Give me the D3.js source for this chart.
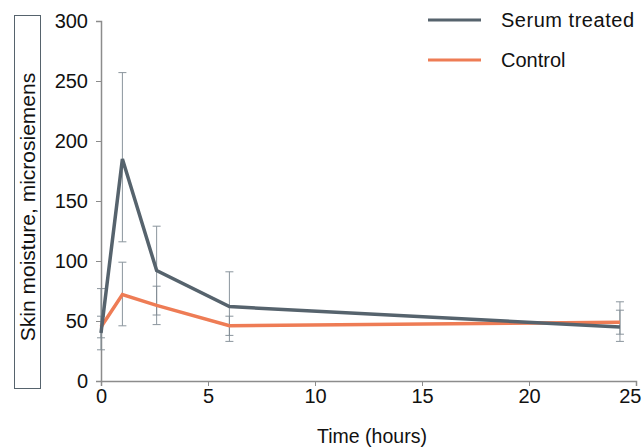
<!DOCTYPE html>
<html>
<head>
<meta charset="utf-8">
<style>
  html, body { margin: 0; padding: 0; background: #fff; }
  svg text { font-family: "Liberation Sans", Arial, sans-serif; fill: #111; }
</style>
</head>
<body>
<svg id="chart" width="643" height="447"></svg>
<script src="https://cdn.jsdelivr.net/npm/d3@7"></script>
<script>
// values
const hours = [0, 1, 2.6, 6, 24.25];
const serum = [40, 185, 92, 62, 45];
const serumLo = [26, 116, 55, 33, 33];
const serumHi = [77, 257, 129, 91, 66];
const control = [45, 72, 63, 46, 49];
const controlLo = [36, 46, 47, 38, 39];
const controlHi = [54, 99, 79, 54, 59];
const xTicks = [0, 5, 10, 15, 20, 25];
const yTicks = [0, 50, 100, 150, 200, 250, 300];

const svg = d3.select('#chart');
const x = d3.scaleLinear().domain([0, 25]).range([101, 636]);
const y = d3.scaleLinear().domain([0, 300]).range([381, 21]);

const axisColor = '#8c8c8c';

// axes
const gx = svg.append('g').attr('transform', 'translate(0,381)')
  .call(d3.axisBottom(x).tickValues(xTicks).tickSize(5).tickPadding(3).tickFormat(d3.format('d')));
const gy = svg.append('g').attr('transform', 'translate(101,0)')
  .call(d3.axisLeft(y).tickValues(yTicks).tickSize(5).tickPadding(8).tickFormat(d3.format('d')));
[gx, gy].forEach(g => {
  g.select('.domain').attr('stroke', axisColor).attr('stroke-width', 1.5);
  g.selectAll('.tick line').attr('stroke', axisColor).attr('stroke-width', 1);
  g.selectAll('.tick text').style('font-size', '20px').style('font-family', '"Liberation Sans", Arial, sans-serif').attr('fill', '#111');
});
// keep the last x label inside the page
gx.selectAll('.tick text').filter(d => d === 25).attr('text-anchor', 'end').attr('x', 5);

// error bars
const errColor = '#7f8a93';
function errorBars(lo, hi) {
  const g = svg.append('g').attr('stroke', errColor).attr('stroke-width', 1).attr('opacity', 0.9);
  hours.forEach((h, i) => {
    const cx = x(h);
    g.append('line').attr('x1', cx).attr('x2', cx).attr('y1', y(lo[i])).attr('y2', y(hi[i]));
    [lo[i], hi[i]].forEach(v => {
      g.append('line').attr('x1', cx - 4).attr('x2', cx + 4).attr('y1', y(v)).attr('y2', y(v));
    });
  });
}
errorBars(controlLo, controlHi);
errorBars(serumLo, serumHi);

// lines
const line = d3.line().x((d, i) => x(hours[i])).y(d => y(d));
const series = [
  { name: 'Serum treated', values: serum, color: '#56636d' },
  { name: 'Control', values: control, color: '#ee7c55' }
];
svg.append('path').datum(control).attr('d', line)
  .attr('fill', 'none').attr('stroke', series[1].color).attr('stroke-width', 3.5);
svg.append('path').datum(serum).attr('d', line)
  .attr('fill', 'none').attr('stroke', series[0].color).attr('stroke-width', 3.5);

// legend
series.forEach((s, i) => {
  const ly = 20 + i * 40;
  svg.append('line').attr('x1', 428).attr('x2', 481).attr('y1', ly).attr('y2', ly)
    .attr('stroke', s.color).attr('stroke-width', 3);
  svg.append('text').attr('x', 501).attr('y', ly).attr('dy', '0.35em')
    .style('font-size', '20px').attr('textLength', i === 0 ? 133 : null).text(s.name);
});

// y axis title in box
svg.append('rect').attr('x', 14.5).attr('y', 15.5).attr('width', 26).attr('height', 373)
  .attr('fill', 'none').attr('stroke', '#56636d').attr('stroke-width', 1);
svg.append('text').attr('transform', 'translate(28,207) rotate(-90)')
  .attr('text-anchor', 'middle').attr('dy', '0.35em').style('font-size', '21px')
  .text('Skin moisture, microsiemens');

// x axis title
svg.append('text').attr('x', 372).attr('y', 436).attr('dy', '0.35em')
  .attr('text-anchor', 'middle').style('font-size', '19.5px').text('Time (hours)');
</script>
</body>
</html>
